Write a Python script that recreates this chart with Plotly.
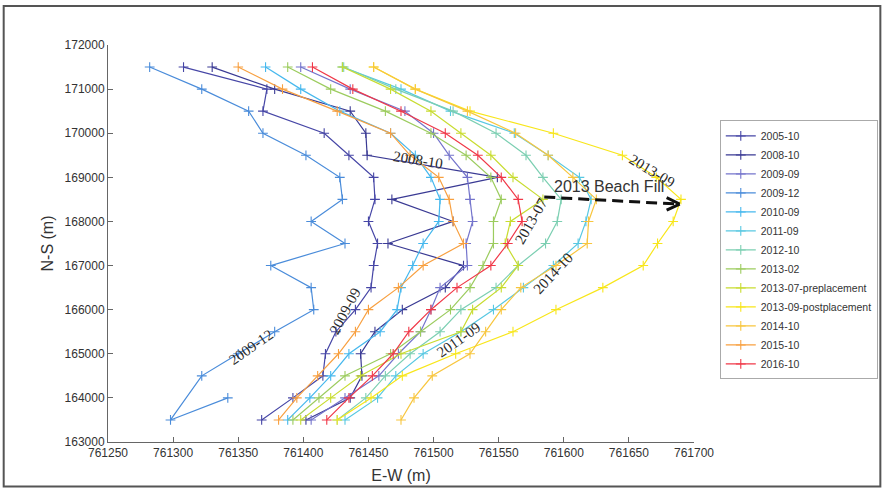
import plotly.graph_objects as go

Y_ROWS = [171500, 171000, 170500, 170000, 169500, 169000, 168500, 168000, 167500,
          167000, 166500, 166000, 165500, 165000, 164500, 164000, 163500]
Y_2009_12 = Y_ROWS[:15] + [163500, 164000]

names = ["2005-10", "2008-10", "2009-09", "2009-12", "2010-09", "2011-09", "2012-10",
         "2013-02", "2013-07-preplacement", "2013-09-postplacement", "2014-10",
         "2015-10", "2016-10"]

colors = ["#4646a6", "#3a3a94", "#7474cc", "#4a8cda", "#46b8ee", "#58c8e2", "#7ccfb2",
          "#9ccc5e", "#c8dc30", "#f8e61a", "#f8c63e", "#f8a040", "#f03848"]

x_2005_10 = [761308, 761372, 761369, 761416, 761435, 761454, 761455, 761450, 761457,
             761454, 761452, 761440, 761425, 761417, 761415, 761392, 761368]
x_2008_10 = [761330, 761378, 761436, 761448, 761449, 761549, 761468, 761515, 761465,
             761523, 761509, 761476, 761455, 761444, 761445, 761436, 761402]
x_2009_09 = [761398, 761436, 761478, 761500, 761512, 761526, 761528, 761530, 761525,
             761526, 761505, 761498, 761490, 761473, 761458, 761432, 761406]
x_2009_12 = [761282, 761322, 761358, 761369, 761402, 761428, 761430, 761406, 761432,
             761375, 761406, 761408, 761378, 761350, 761322, 761298, 761342]
x_2010_09 = [761371, 761398, 761428, 761467, 761486, 761498, 761505, 761504, 761492,
             761484, 761475, 761472, 761459, 761435, 761421, 761405, 761388]
x_2011_09 = [761430, 761475, 761513, 761562, 761588, 761612, 761621, 761617, 761611,
             761592, 761569, 761546, 761521, 761492, 761471, 761457, 761432]
x_2012_10 = [761431, 761471, 761515, 761548, 761571, 761584, 761598, 761595, 761586,
             761565, 761548, 761521, 761505, 761482, 761463, 761448, 761426]
x_2013_02 = [761388, 761421, 761463, 761498, 761525, 761544, 761552, 761546, 761546,
             761538, 761528, 761513, 761490, 761467, 761432, 761412, 761392]
x_2013_07 = [761430, 761467, 761498, 761521, 761544, 761561, 761584, 761559, 761555,
             761565, 761552, 761530, 761521, 761475, 761444, 761421, 761398]
x_2013_09 = [761454, 761486, 761528, 761592, 761645, 761671, 761690, 761684, 761672,
             761661, 761630, 761594, 761561, 761517, 761476, 761452, 761426]
x_2014_10 = [761454, 761486, 761526, 761563, 761588, 761607, 761625, 761619, 761618,
             761594, 761567, 761552, 761540, 761528, 761499, 761485, 761475]
x_2015_10 = [761350, 761384, 761426, 761467, 761482, 761504, 761512, 761515, 761523,
             761492, 761473, 761450, 761440, 761427, 761411, 761395, 761381]
x_2016_10 = [761407, 761438, 761475, 761509, 761534, 761552, 761565, 761568, 761557,
             761544, 761518, 761498, 761481, 761469, 761453, 761435, 761418]

series_x = [x_2005_10, x_2008_10, x_2009_09, x_2009_12, x_2010_09, x_2011_09, x_2012_10,
            x_2013_02, x_2013_07, x_2013_09, x_2014_10, x_2015_10, x_2016_10]
series_y = [Y_ROWS, Y_ROWS, Y_ROWS, Y_2009_12] + [Y_ROWS] * 9

# curve labels: text, x, y, angle
label_text = ["2008-10", "2009-12", "2009-09", "2011-09", "2013-07", "2014-10", "2013-09"]
label_x = [761488, 761360, 761432, 761519, 761575, 761592, 761668]
label_y = [169393, 165154, 165970, 165312, 168010, 166831, 169143]
label_angle = [9, -35, -62, -35, -60, -47, 31]

fill_text = "2013 Beach Fill"
fill_text_xy = (761635, 168800)
arrow_start = (761585, 168554)
arrow_tip = (761689, 168395)
arrow_arm_a = (761679, 168540)
arrow_arm_b = (761679, 168255)

fig = go.Figure()
for nm, c, xs, ys in zip(names, colors, series_x, series_y):
    fig.add_trace(go.Scatter(
        x=xs, y=ys, name=nm, mode="lines+markers",
        line=dict(color=c, width=1.2),
        marker=dict(symbol="cross-thin", size=7, color=c, line=dict(color=c, width=1.1)),
    ))

for t, x, y, a in zip(label_text, label_x, label_y, label_angle):
    fig.add_annotation(x=x, y=y, text=t, showarrow=False, textangle=a,
                       font=dict(family="Liberation Serif, Times New Roman, serif",
                                 size=15, color="#2a2a2a"))

fig.add_annotation(x=fill_text_xy[0], y=fill_text_xy[1], text=fill_text, showarrow=False,
                   font=dict(family="Liberation Sans, Arial, sans-serif", size=16,
                             color="#333333"))

fig.add_shape(type="line", x0=arrow_start[0], y0=arrow_start[1],
              x1=arrow_tip[0] - 2, y1=arrow_tip[1],
              line=dict(color="#111111", width=3, dash="11px,6px"))
for arm in (arrow_arm_a, arrow_arm_b):
    fig.add_shape(type="line", x0=arm[0], y0=arm[1], x1=arrow_tip[0], y1=arrow_tip[1],
                  line=dict(color="#111111", width=3))

tick_font = dict(family="Liberation Sans Narrow, Liberation Sans, Arial", size=12, color="#333333")
fig.update_xaxes(range=[761250, 761700], dtick=50, tick0=761250, tickformat="d",
                 showgrid=False, zeroline=False, showline=True, linecolor="#666666",
                 linewidth=1, ticks="inside", ticklen=5, tickcolor="#666666",
                 tickfont=tick_font,
                 title=dict(text="E-W (m)", font=dict(family="Liberation Sans, Arial", size=16,
                                                       color="#333333"), standoff=10))
fig.update_yaxes(range=[163000, 172000], dtick=1000, tickformat="d",
                 showgrid=False, zeroline=False, showline=True, linecolor="#666666",
                 linewidth=1, ticks="inside", ticklen=5, tickcolor="#666666",
                 tickfont=tick_font,
                 title=dict(text="N-S (m)", font=dict(family="Liberation Sans, Arial", size=16,
                                                       color="#333333"), standoff=6))

fig.add_shape(type="rect", xref="paper", yref="paper",
              x0=-0.178, y0=-0.112, x1=1.318, y1=1.098,
              line=dict(color="#555555", width=2))

fig.update_layout(
    width=885, height=492,
    margin=dict(l=108, r=191, t=45, b=50, autoexpand=False),
    plot_bgcolor="white", paper_bgcolor="white",
    showlegend=True,
    legend=dict(x=1.044, y=0.81, xanchor="left", yanchor="top",
                bordercolor="#aaaaaa", borderwidth=1,
                font=dict(family="Liberation Sans, Arial", size=10.5, color="#333333"),
                tracegroupgap=0, itemwidth=30),
)

fig.write_html("out.html")
